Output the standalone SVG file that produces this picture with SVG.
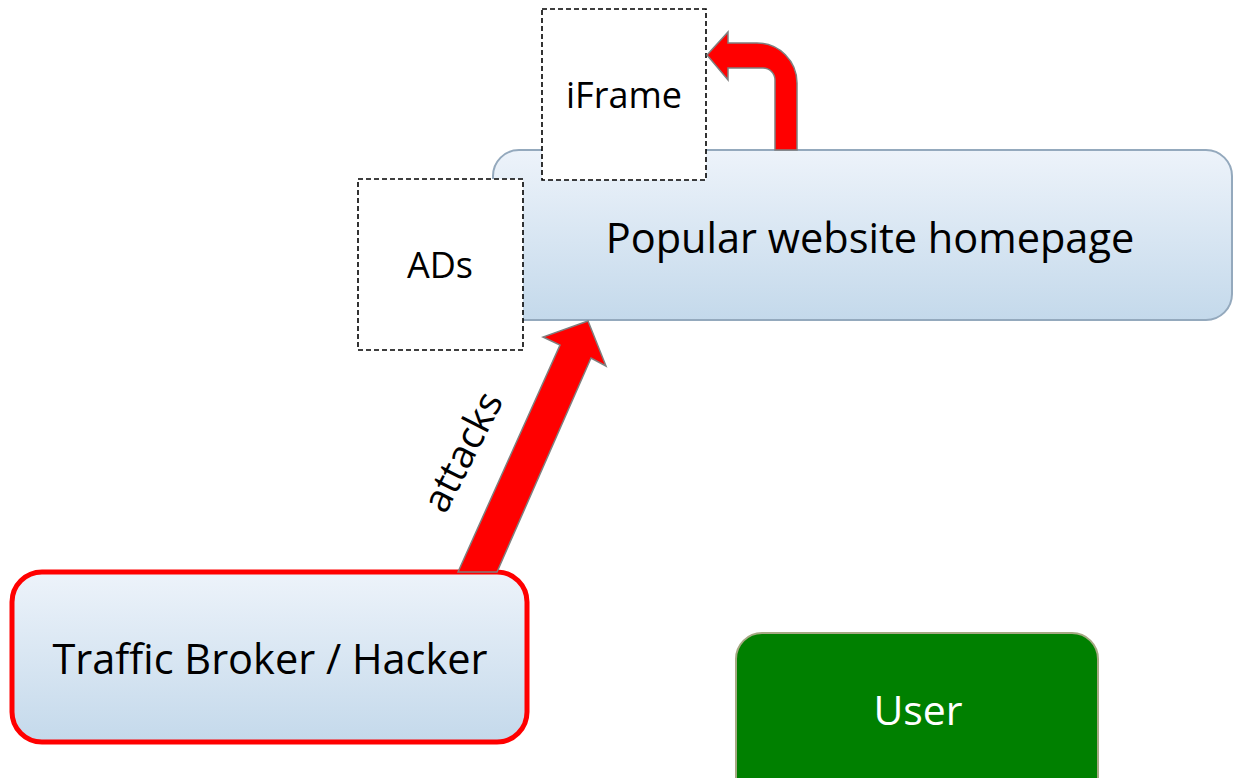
<svg xmlns="http://www.w3.org/2000/svg" width="1234" height="778" viewBox="0 0 1234 778">
<defs>
<linearGradient id="blueGrad" x1="0" y1="0" x2="0" y2="1">
<stop offset="0" stop-color="#edf3fa"/>
<stop offset="1" stop-color="#c4d9eb"/>
</linearGradient>
</defs>
<style>
text{font-family:"Open Sans","Liberation Sans",sans-serif;fill:#000;}
.dash{fill:#fff;stroke:#000;stroke-width:1.6;stroke-dasharray:5 3;}
.arrow{fill:#ff0000;stroke:#7f7f7f;stroke-width:1.5;stroke-linejoin:miter;}
</style>
<rect width="1234" height="778" fill="#fff"/>
<g id="popular">
<rect x="493" y="150" width="739" height="170" rx="26" fill="url(#blueGrad)" stroke="#94a9bd" stroke-width="2"/>
<text x="870" y="253" font-size="41.5" text-anchor="middle">Popular website homepage</text>
</g>
<g id="ads">
<rect x="358" y="179" width="165" height="171" class="dash"/>
<text x="440" y="278" font-size="36" text-anchor="middle">ADs</text>
</g>
<g id="iframe">
<rect x="542" y="9" width="164" height="171" class="dash"/>
<text x="624" y="108" font-size="36" text-anchor="middle">iFrame</text>
</g>
<g id="traffic">
<rect x="12" y="572" width="515" height="170" rx="30" fill="url(#blueGrad)" stroke="#ff0000" stroke-width="5"/>
<text x="270" y="674" font-size="41.5" text-anchor="middle">Traffic Broker / Hacker</text>
</g>
<g id="user">
<rect x="736" y="633" width="362" height="170" rx="26" fill="#008000" stroke="#a6a983" stroke-width="2"/>
<text x="918" y="725" font-size="41" text-anchor="middle" style="fill:#fff">User</text>
</g>
<g id="connectors">
<polygon class="arrow" points="458,572 560,345 543,337 588,321 606,366 591,358 497,572"/>
<path class="arrow" d="M728,43 L757,43 A40,40 0 0 1 797,83 L797,150 L775,150 L775,80 A12,12 0 0 0 763,68 L728,68 L728,80 L707,55 L728,32 Z"/>
<text transform="translate(463,452) rotate(-63)" x="0" y="13" font-size="39" text-anchor="middle">attacks</text>
</g>
</svg>
